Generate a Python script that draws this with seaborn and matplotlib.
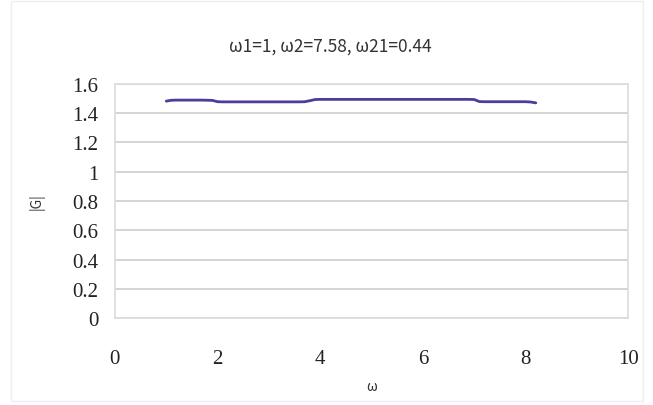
import pandas as pd
import matplotlib.pyplot as plt
import seaborn as sns
from matplotlib.patches import Rectangle

# =====================================
# Data
# =====================================
omega = [
    1.0, 1.1, 1.2, 1.3, 1.4, 1.5, 1.6, 1.7, 1.8, 1.9,
    2.0, 2.1, 2.2, 2.3, 2.4, 2.5, 2.6, 2.7, 2.8, 2.9,
    3.0, 3.1, 3.2, 3.3, 3.4, 3.5, 3.6, 3.7, 3.8, 3.9,
    4.0, 4.1, 4.2, 4.3, 4.4, 4.5, 4.6, 4.7, 4.8, 4.9,
    5.0, 5.1, 5.2, 5.3, 5.4, 5.5, 5.6, 5.7, 5.8, 5.9,
    6.0, 6.1, 6.2, 6.3, 6.4, 6.5, 6.6, 6.7, 6.8, 6.9,
    7.0, 7.1, 7.2, 7.3, 7.4, 7.5, 7.6, 7.7, 7.8, 7.9,
    8.0, 8.1, 8.2,
]
G_abs = [
    1.482, 1.488, 1.489, 1.489, 1.489, 1.489, 1.489, 1.489, 1.488, 1.487,
    1.478, 1.477, 1.477, 1.477, 1.477, 1.477, 1.477, 1.477, 1.477, 1.477,
    1.477, 1.477, 1.477, 1.477, 1.477, 1.477, 1.477, 1.478, 1.485, 1.493,
    1.494, 1.494, 1.494, 1.494, 1.494, 1.494, 1.494, 1.494, 1.494, 1.494,
    1.494, 1.494, 1.494, 1.494, 1.494, 1.494, 1.494, 1.494, 1.494, 1.494,
    1.494, 1.494, 1.494, 1.494, 1.494, 1.494, 1.494, 1.494, 1.494, 1.494,
    1.493, 1.479, 1.478, 1.478, 1.478, 1.478, 1.478, 1.478, 1.478, 1.478,
    1.478, 1.476, 1.470,
]

title_text = "ω1=1, ω2=7.58, ω21=0.44"
x_ticks = [0, 2, 4, 6, 8, 10]
y_ticks = [0, 0.2, 0.4, 0.6, 0.8, 1, 1.2, 1.4, 1.6]
y_tick_labels = ["0", "0.2", "0.4", "0.6", "0.8", "1", "1.2", "1.4", "1.6"]

df = pd.DataFrame({"omega": omega, "G": G_abs})

# =====================================
# Figure
# =====================================
sns.set_style("white")
plt.rcParams["font.family"] = ["Liberation Serif", "DejaVu Serif"]

fig = plt.figure(figsize=(6.53, 4.06), dpi=100)
ax = fig.add_axes([0.176, 0.214, 0.786, 0.577])

sns.lineplot(data=df, x="omega", y="G", ax=ax,
             color="#503c98", linewidth=2.0)

ax.set_xlim(0, 10)
ax.set_ylim(0, 1.6)
ax.set_xticks(x_ticks)
ax.set_yticks(y_ticks)
ax.set_yticklabels(y_tick_labels)
ax.tick_params(axis="x", length=0, pad=22, labelsize=15, colors="#222222")
ax.tick_params(axis="y", length=0, pad=12, labelsize=15, colors="#222222")

ax.grid(axis="y", color="#d4d4d4", linewidth=1.4)
ax.grid(axis="x", visible=False)
for s in ax.spines.values():
    s.set_color("#dcdcdc")
    s.set_linewidth(1.2)

cjk = ["Noto Sans CJK JP", "DejaVu Sans"]
ax.set_xlabel("ω", family=cjk, fontsize=10, color="#333333", labelpad=8)
ax.set_ylabel("|G|", family=cjk, fontsize=10, color="#333333", labelpad=20)
fig.text(0.506, 0.886, title_text, family=cjk, fontsize=12.5,
         color="#333333", ha="center", va="center")

# faint chart-area border
fig.patches.append(Rectangle((0.017, 0.01), 0.968, 0.985,
                             transform=fig.transFigure, fill=False,
                             edgecolor="#efefef", linewidth=1.0))

fig.savefig("out.png", dpi=100)
